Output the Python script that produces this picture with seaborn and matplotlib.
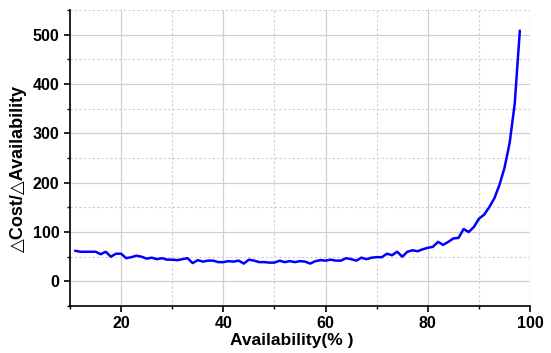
import numpy as np
import pandas as pd
import matplotlib
matplotlib.use("Agg")
import matplotlib.pyplot as plt
from matplotlib.ticker import MultipleLocator
import seaborn as sns

# values
availability = list(range(11, 99))
delta_ratio = [62, 60, 60, 60, 60, 55, 60, 50, 56, 56,
               47, 49, 52, 50, 46, 48, 45, 47, 44, 44,
               43, 45, 47, 37, 43, 40, 42, 42, 39, 39,
               41, 40, 42, 36, 44, 42, 39, 39, 38, 38,
               42, 39, 41, 39, 41, 40, 36, 41, 43, 42,
               44, 42, 42, 47, 45, 42, 48, 45, 48, 49,
               49, 56, 53, 60, 50, 60, 63, 61, 65, 68,
               70, 80, 74, 80, 87, 88, 106, 100, 110, 127,
               135, 150, 168, 195, 230, 280, 360, 508]

df = pd.DataFrame({"Availability": availability, "Ratio": delta_ratio})

sns.set_style("ticks")
plt.rcParams["font.family"] = ["Liberation Sans", "DejaVu Sans"]
plt.rcParams["font.weight"] = "bold"
plt.rcParams["text.color"] = "black"
plt.rcParams["axes.labelcolor"] = "black"

fig = plt.figure(figsize=(5.51, 3.53), dpi=100)
ax = fig.add_axes([0.127, 0.133, 0.835, 0.839])

sns.lineplot(data=df, x="Availability", y="Ratio", color="#0000FF", linewidth=1.8, ax=ax)

ax.set_xlim(10, 100)
ax.set_ylim(-50, 550)
ax.xaxis.set_major_locator(MultipleLocator(20))
ax.xaxis.set_minor_locator(MultipleLocator(10))
ax.yaxis.set_major_locator(MultipleLocator(100))
ax.yaxis.set_minor_locator(MultipleLocator(50))

ax.grid(which="major", color="#d0d0d0", linestyle="-", linewidth=0.9)
ax.grid(which="minor", color="#d0d0d0", linestyle=(0, (2, 2)), linewidth=0.8)
ax.set_axisbelow(True)

sns.despine(ax=ax)
for sp in ["left", "bottom"]:
    ax.spines[sp].set_linewidth(1.2)
    ax.spines[sp].set_color("black")

ax.tick_params(which="major", length=4, width=1.2, labelsize=11.5, colors="black")
ax.tick_params(which="minor", length=2.5, width=1.0, colors="black")
for lbl in ax.get_xticklabels() + ax.get_yticklabels():
    lbl.set_fontweight("bold")

ax.set_xlabel("Availability(% )", fontsize=12.5, fontweight="bold")
ax.set_ylabel("△Cost/△Availability", fontsize=13, fontweight="bold")
ax.xaxis.set_label_coords(0.483, -0.09)
ax.yaxis.set_label_coords(-0.093, 0.466)

fig.savefig("out.png", dpi=100)
